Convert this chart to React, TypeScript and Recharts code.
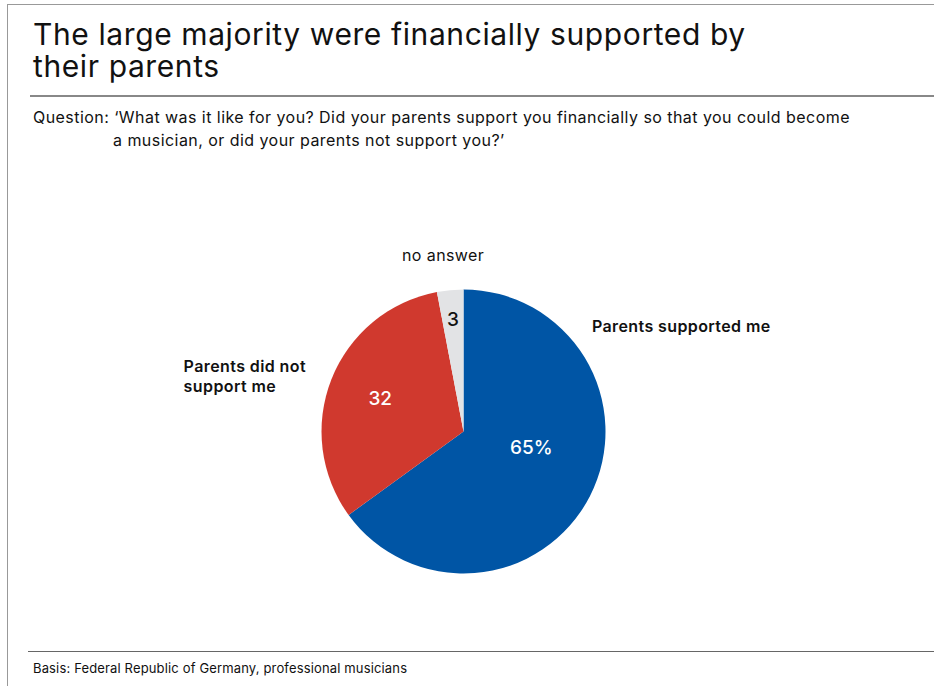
import React from 'react';
import { PieChart, Pie, Cell } from 'recharts';

const categories = ['Parents supported me', 'Parents did not support me', 'no answer'];
const shares = [65, 32, 3];
const valueLabels = ['65%', '32', '3'];
const sliceColors = ['#0055a5', '#d0392e', '#e2e3e5'];
const valueColors = ['#ffffff', '#ffffff', '#111111'];

// label placement: [angle in degrees, distance as factor of radius]
const valueSpots: Array<[number, number]> = [[-13, 0.49], [158.5, 0.63], [95.4, 0.79]];
const nameSpots: Array<[number, number, 'start' | 'middle' | 'end']> = [
  [39.4, 1.17, 'start'],
  [168.7, 2.01, 'start'],
  [96.6, 1.25, 'middle'],
];
const nameLines = [['Parents supported me'], ['Parents did not', 'support me'], ['no answer']];
const titleLines = ['The large majority were financially supported by', 'their parents'];

const font = 'Inter, "Liberation Sans", Arial, sans-serif';
const RAD = Math.PI / 180;

const data = categories.map((name, i) => ({ name, value: shares[i] }));

const renderLabel = (props: any) => {
  const { cx, cy, outerRadius, index } = props;
  const [va, vd] = valueSpots[index];
  const vx = cx + Math.cos(va * RAD) * outerRadius * vd;
  const vy = cy - Math.sin(va * RAD) * outerRadius * vd;
  const [na, nd, anchor] = nameSpots[index];
  const nx = cx + Math.cos(na * RAD) * outerRadius * nd;
  const ny = cy - Math.sin(na * RAD) * outerRadius * nd;
  const lines = nameLines[index];
  const bold = index !== 2;
  return (
    <g>
      <text x={vx} y={vy} textAnchor="middle" dominantBaseline="central"
        fill={valueColors[index]} fontFamily={font} fontSize={19} fontWeight={500}>
        {valueLabels[index]}
      </text>
      {lines.map((l, k) => (
        <text key={k} x={nx} y={ny + (k - (lines.length - 1) / 2) * 20}
          textAnchor={anchor} dominantBaseline="central" fill="#111"
          fontFamily={font} fontSize={16} fontWeight={bold ? 600 : 400} letterSpacing={0.4}>
          {l}
        </text>
      ))}
    </g>
  );
};

export default function App() {
  return (
    <div style={{ position: 'absolute', left: 0, top: 0, width: 934, height: 686, background: '#fff', fontFamily: font, color: '#111', overflow: 'hidden' }}>
      <div style={{ position: 'absolute', left: 7, top: 4, right: 0, bottom: 0, borderLeft: '1px solid #999', borderTop: '1px solid #999' }} />
      {titleLines.map((t, i) => (
        <div key={t} style={{ position: 'absolute', left: 33, top: 19 + i * 32, fontSize: 30, lineHeight: '30px', whiteSpace: 'nowrap', letterSpacing: 0.6 }}>
          {t}
        </div>
      ))}
      <div style={{ position: 'absolute', left: 30, right: 0, top: 95, height: 2, background: '#888' }} />
      <div style={{ position: 'absolute', left: 33, top: 106, fontSize: 16, lineHeight: '23px', whiteSpace: 'nowrap', letterSpacing: 0.45 }}>
        Question: ‘What was it like for you? Did your parents support you financially so that you could become
      </div>
      <div style={{ position: 'absolute', left: 113, top: 129, fontSize: 16, lineHeight: '23px', letterSpacing: 0.45 }}>
        a musician, or did your parents not support you?’
      </div>
      <div style={{ position: 'absolute', left: 0, top: 0 }}>
        <PieChart width={934} height={686} margin={{ top: 0, right: 0, bottom: 0, left: 0 }}>
          <Pie data={data} dataKey="value" nameKey="name" cx={463.5} cy={431.5}
            outerRadius={142} startAngle={90} endAngle={-270} stroke="none"
            label={renderLabel} labelLine={false} isAnimationActive={false}>
            {data.map((d, i) => <Cell key={d.name} fill={sliceColors[i]} />)}
          </Pie>
        </PieChart>
      </div>
      <div style={{ position: 'absolute', left: 28, right: 0, top: 651, height: 1, background: '#666' }} />
      <div style={{ position: 'absolute', left: 33, top: 659, fontSize: 13, lineHeight: '18px', letterSpacing: 0.15 }}>
        Basis: Federal Republic of Germany, professional musicians
      </div>
    </div>
  );
}
